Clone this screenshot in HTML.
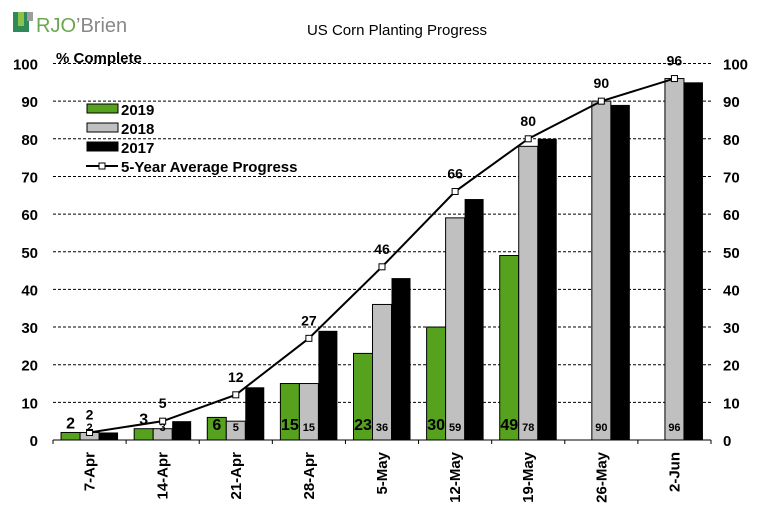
<!DOCTYPE html>
<html><head><meta charset="utf-8"><style>
body{margin:0;background:#fff;width:763px;height:516px;overflow:hidden}
svg{font-family:"Liberation Sans",Arial,sans-serif}
</style></head><body>
<svg id="c" width="763" height="516">
<g>
<rect x="13" y="12" width="16" height="20" fill="#2e8b57"/>
<rect x="18" y="12" width="6" height="14" fill="#8bc34a"/>
<rect x="27" y="12" width="6" height="9" fill="#9e9e9e"/>
<text x="36" y="32" font-size="20" fill="#6aa84f">RJO<tspan fill="#888">’Brien</tspan></text>
</g>
<text x="397" y="35" font-size="15" text-anchor="middle">US Corn Planting Progress</text>
<text x="56" y="63" font-size="15" font-weight="bold">% Complete</text>
<g id="grid"></g><g id="bars"></g><g id="line"></g><g id="labels"></g><g id="axes"></g>
<g font-weight="bold">
<g><rect x="87" y="104" width="31" height="9" fill="#56a21f" stroke="#000"/><text x="121" y="115" font-size="15">2019</text></g>
<g><rect x="87" y="123" width="31" height="9" fill="#c0c0c0" stroke="#000"/><text x="121" y="134" font-size="15">2018</text></g>
<g><rect x="87" y="142" width="31" height="9" fill="#000" stroke="#000"/><text x="121" y="153" font-size="15">2017</text></g>
<g><line x1="86" y1="166" x2="118" y2="166" stroke="#000" stroke-width="2"/><rect x="99" y="163" width="6" height="6" fill="#fff" stroke="#000"/><text x="121" y="172" font-size="15">5-Year Average Progress</text></g>
</g>
</svg>
<script>
const categories=["7-Apr","14-Apr","21-Apr","28-Apr","5-May","12-May","19-May","26-May","2-Jun"];
const y2019=[2,3,6,15,23,30,49,null,null];
const y2018=[2,3,5,15,36,59,78,90,96];
const y2017=[2,5,14,29,43,64,80,89,95];
const avg=[2,5,12,27,46,66,80,90,96];
const yTicks=[0,10,20,30,40,50,60,70,80,90,100];
const NS="http://www.w3.org/2000/svg";
const L=53,R=711,Y0=440,Y100=63.5,band=(R-L)/categories.length,bw=19;
const yPos=v=>Y0-(v/100)*(Y0-Y100);
const xC=i=>L+band*(i+0.5);
function mk(p,tag,a,txt){const e=document.createElementNS(NS,tag);for(const k in a)e.setAttribute(k,a[k]);if(txt!=null)e.textContent=txt;document.getElementById(p).appendChild(e);return e;}
yTicks.forEach(t=>{
 if(t>0){const g=mk('grid','line',{x1:L,x2:R,y1:yPos(t),y2:yPos(t),stroke:'#000','stroke-dasharray':'3,2','stroke-width':1});
 
 }
 const a=mk('axes','text',{x:38,y:yPos(t)+6,'font-size':15,'font-weight':'bold','text-anchor':'end'},t);
 
 
 const b=mk('axes','text',{x:723,y:yPos(t)+6,'font-size':15,'font-weight':'bold'},t);
 
 
});
const base=mk('axes','line',{x1:L,x2:R,y1:Y0,y2:Y0,stroke:'#000'});


for(let i=0;i<=categories.length;i++){mk('axes','line',{x1:L+band*i,x2:L+band*i,y1:Y0,y2:Y0+4,stroke:'#000'});}
const series=[[y2019,'#56a21f','2019'],[y2018,'#c0c0c0','2018'],[y2017,'#000','2017']];
categories.forEach((c,i)=>{
 const t=mk('axes','text',{transform:`translate(${xC(i)+5},${Y0+12}) rotate(-90)`,'font-size':15,'font-weight':'bold','text-anchor':'end'},c);
 
 
 series.forEach((s,k)=>{
  const v=s[0][i];if(v==null)return;
  const x=xC(i)-bw*1.5+k*bw;
  const r=mk('bars','rect',{x:x,y:yPos(v),width:bw,height:Y0-yPos(v),fill:s[1],stroke:'#000','stroke-width':k==2?0:1});
  
  
 });
 const v9=y2019[i];
 if(v9!=null){const cy=v9>=5?424:yPos(v9)-10;
 const t1=mk('labels','text',{x:xC(i)-bw,y:cy+6,'font-size':16,'font-weight':'bold','text-anchor':'middle'},v9);
 
 }
 const t2=mk('labels','text',{x:xC(i),y:431,'font-size':11,'font-weight':'bold','text-anchor':'middle'},y2018[i]);
 
 
 const t3=mk('labels','text',{x:xC(i),y:yPos(avg[i])-13,'font-size':14,'font-weight':'bold','text-anchor':'middle'},avg[i]);
 
 
});
const pl=mk('line','polyline',{points:avg.map((v,i)=>xC(i)+','+yPos(v)).join(' '),fill:'none',stroke:'#000','stroke-width':2});


avg.forEach((v,i)=>{const m=mk('line','rect',{x:xC(i)-3,y:yPos(v)-3,width:6,height:6,fill:'#fff',stroke:'#000'});

});
</script>
</body></html>
